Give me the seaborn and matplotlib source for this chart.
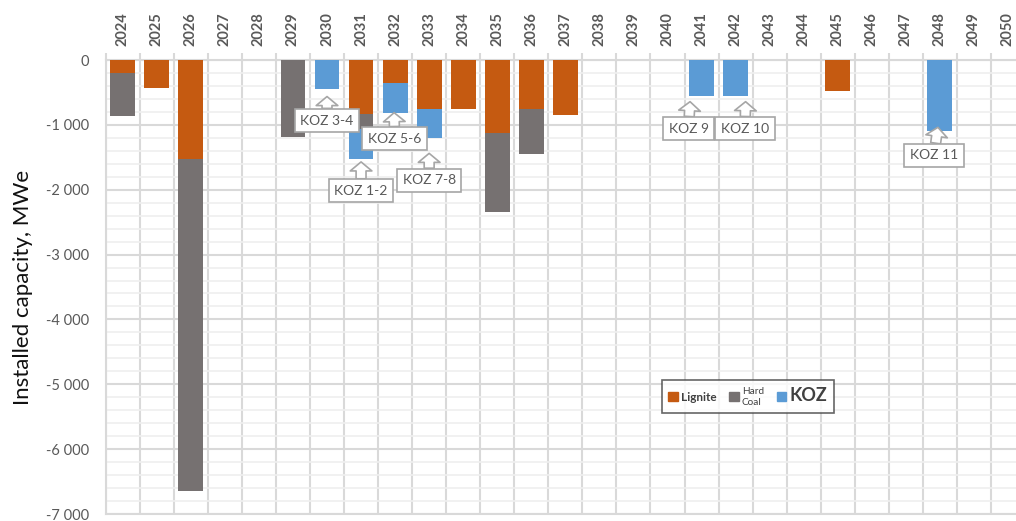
import numpy as np
import pandas as pd
import matplotlib.pyplot as plt
import matplotlib.transforms as mtransforms
import seaborn as sns
from matplotlib.patches import Patch
from matplotlib.ticker import FuncFormatter, MultipleLocator, FixedLocator

# capacity retired per year, MWe (plotted as negative)
years = [str(y) for y in range(2024, 2051)]
lignite = [195, 430, 1530, 0, 0, 0, 0, 830, 360, 758, 755, 1130, 760, 850,
           0, 0, 0, 0, 0, 0, 0, 480, 0, 0, 0, 0, 0]
hard_coal = [670, 0, 5115, 0, 0, 1180, 0, 240, 0, 0, 0, 1210, 690, 0,
             0, 0, 0, 0, 0, 0, 0, 0, 0, 0, 0, 0, 0]
koz = [0, 0, 0, 0, 0, 0, 440, 455, 452, 450, 0, 0, 0, 0,
       0, 0, 0, 550, 550, 0, 0, 0, 0, 0, 1100, 0, 0]

koz_labels = ["KOZ 3-4", "KOZ 1-2", "KOZ 5-6", "KOZ 7-8", "KOZ 9", "KOZ 10", "KOZ 11"]
koz_years = ["2030", "2031", "2032", "2033", "2041", "2042", "2048"]

c_lig = "#C55A11"
c_coal = "#767171"
c_koz = "#5B9BD5"
grid_c = "#d9d9d9"
txt_c = "#595959"

df = pd.DataFrame({"year": years, "lignite": lignite, "hard_coal": hard_coal, "koz": koz})
df["s1"] = -df["lignite"]
df["s2"] = -(df["lignite"] + df["hard_coal"])
df["s3"] = -(df["lignite"] + df["hard_coal"] + df["koz"])

sns.set_style("white")
plt.rcParams["font.family"] = ["Lato", "DejaVu Sans"]

fig = plt.figure(figsize=(10.16, 5.21), dpi=100)
ax = fig.add_axes([105.7 / 1016, 1 - 514 / 521, (1025 - 105.7) / 1016, 454 / 521])

# stacked bars drawn as layered cumulative totals
sns.barplot(data=df, x="year", y="s3", color=c_koz, saturation=1, width=0.73, ax=ax, zorder=3)
sns.barplot(data=df, x="year", y="s2", color=c_coal, saturation=1, width=0.73, ax=ax, zorder=3)
sns.barplot(data=df, x="year", y="s1", color=c_lig, saturation=1, width=0.73, ax=ax, zorder=3)
for p in ax.patches:
    p.set_linewidth(0)

ax.set_ylim(-7000, 0)
ax.set_xlim(-0.5, len(years) - 0.5)
ax.yaxis.set_major_locator(MultipleLocator(1000))
ax.yaxis.set_minor_locator(MultipleLocator(200))
ax.yaxis.set_major_formatter(FuncFormatter(lambda v, p: f"{int(v):,}".replace(",", " ")))
ax.grid(axis="y", which="major", color=grid_c, lw=1.5, zorder=0)
ax.grid(axis="y", which="minor", color="#efefef", lw=1.2, zorder=0)
ax.xaxis.set_minor_locator(FixedLocator(np.arange(-0.5, len(years), 1)))
ax.grid(axis="x", which="minor", color=grid_c, lw=1.5, zorder=0)
ax.set_axisbelow(True)

ax.xaxis.tick_top()
ax.tick_params(axis="x", which="major", length=0, pad=10, labelsize=10.5, labelcolor=txt_c, rotation=90)
ax.tick_params(axis="x", which="minor", length=5, width=1.5, color=grid_c, top=True, bottom=False)
for t in ax.get_xticklabels():
    t.set_fontweight("bold")
ax.tick_params(axis="y", which="both", length=0, pad=12, labelsize=10.5, labelcolor=txt_c)
ax.set_xlabel("")
ax.set_ylabel("Installed capacity, MWe", fontsize=16, color="#111111", labelpad=9)
for s in ax.spines.values():
    s.set_color(grid_c)
    s.set_linewidth(1.5)
ax.spines["right"].set_visible(False)

# callouts: tip dx px, gap px below bar, box centre offset px
callout_style = [(0, 8, 0, -24), (0, 3, 0, -29), (-1, 0, 0.5, -26), (0, 15, 0, -27),
                 (-11.5, 6, -1.5, -27), (10, 6, -0.5, -27), (-2, -4, -4, -28)]
for lab, yr, (tdx, gap, bx, by) in zip(koz_labels, koz_years, callout_style):
    i = years.index(yr)
    bottom = df.loc[i, "s3"]
    tr = ax.transData + mtransforms.ScaledTranslation(tdx / 100, -gap / 100, fig.dpi_scale_trans)
    ax.annotate(lab, xy=(i, bottom), xycoords=tr, xytext=(bx * 0.72, by * 0.72),
                textcoords="offset points", ha="center", va="center", fontsize=10,
                color=txt_c, zorder=5,
                bbox=dict(boxstyle="square,pad=0.4", fc="white", ec="#a6a6a6", lw=1.2),
                arrowprops=dict(arrowstyle="simple,head_length=0.5,head_width=1.2,tail_width=0.55",
                                fc="white", ec="#a6a6a6", lw=1.2, shrinkA=0, shrinkB=0,
                                mutation_scale=13))

handles = [Patch(color=c_lig), Patch(color=c_coal), Patch(color=c_koz)]
leg = ax.legend(handles, ["Lignite", "Hard\nCoal", "KOZ"], ncol=3, loc="upper left",
                bbox_to_anchor=(0.605, 0.295), borderaxespad=0, frameon=True, fancybox=False,
                handlelength=0.8, handleheight=0.8, handletextpad=0.25, columnspacing=1.1,
                prop={"size": 8.5}, borderpad=0.55)
leg.get_frame().set_edgecolor("#404040")
leg.get_frame().set_linewidth(1.2)
sizes = [8.5, 7.2, 13]
weights = ["bold", "normal", "bold"]
for t, s, w in zip(leg.get_texts(), sizes, weights):
    t.set_fontsize(s)
    t.set_fontweight(w)
    t.set_color("#404040")

fig.savefig("out.png", dpi=100)
